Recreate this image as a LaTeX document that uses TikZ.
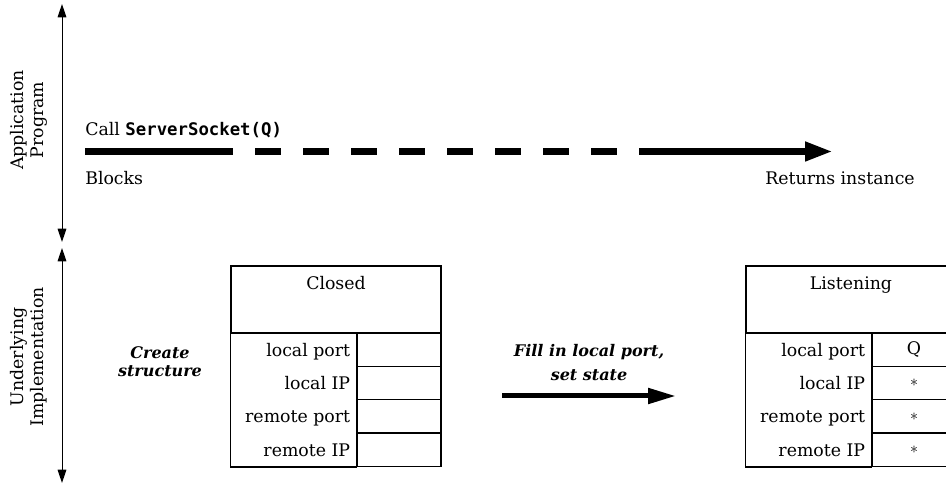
\documentclass[tikz,border=0pt]{standalone}
\usepackage{fontspec}
\setmainfont{DejaVu Serif}
\setmonofont{DejaVu Sans Mono}
\usetikzlibrary{arrows.meta, positioning}

\tikzset{
  lbl/.style={font=\fontsize{13}{15}\selectfont, inner sep=0pt},
  note/.style={font=\fontsize{12}{13.5}\selectfont\bfseries\itshape, inner sep=0pt, align=center},
  rowlbl/.style={lbl, text height=10pt, text depth=0pt},
  headbox/.style={draw, line width=0.9pt, minimum width=157.5pt, minimum height=50.25pt, inner sep=0pt},
  cell/.style={draw, line width=0.9pt, minimum width=63pt, minimum height=25pt, inner sep=0pt, font=\fontsize{13}{15}\selectfont},
  callline/.style={line width=5.25pt},
  span/.style={line width=0.75pt, {Triangle[length=10pt,width=6.5pt]}-{Triangle[length=10pt,width=6.5pt]}},
}

\begin{document}
\begin{tikzpicture}[x=0.75pt, y=-0.75pt]
    \useasboundingbox (0,0) rectangle (946,484);
    \clip (0,0) rectangle (946,484);

    % levels on the left
    \coordinate (apptop) at (62,4);
    \coordinate (appbot) at (62,242);
    \coordinate (imptop) at (62,248);
    \coordinate (impbot) at (62,483);
    \draw[span] (apptop) -- (appbot);
    \draw[span] (imptop) -- (impbot);
    \node[lbl, rotate=90, align=center] (app) at (29,120) {Application\\Program};
    \node[lbl, rotate=90, align=center] (imp) at (29,357) {Underlying\\Implementation};

    % the call
    \coordinate (callstart) at (85,151.5);
    \coordinate (blockend) at (207,151.5);
    \coordinate (waitend) at (665,151.5);
    \coordinate (retend) at (833,151.5);
    \draw[callline] (callstart) -- (blockend);
    \draw[callline, dash pattern=on 19.5pt off 16.5pt] (blockend) -- (waitend);
    \draw[callline, -{Triangle[length=21pt,width=13.5pt]}] (waitend) -- (retend);
    \node[lbl, anchor=base west] (call) at (85,136) {Call \texttt{\bfseries ServerSocket(Q)}};
    \node[lbl, anchor=base west] (blocks) at (85,185) {Blocks};
    \node[lbl, anchor=base east] (returns) at (915,185) {Returns instance};

    % closed socket
    \node[note] (create) at (160,362) {Create\\structure};
    \node[headbox] (closed) at (336,299.5) {};
    \node[lbl, below=8pt of closed.north] {Closed};
    \foreach \i/\lab in {1/local port, 2/local IP, 3/remote port, 4/remote IP} {
      \node[cell] (closedv\i) at (399,{333+33.33*(\i-0.5)}) {};
      \node[rowlbl, left=4.5pt of closedv\i] {\lab};
    }
    \draw[line width=0.9pt] (closed.south west) rectangle (closedv4.south west);

    % fill in
    \coordinate (fillstart) at (502,396);
    \coordinate (fillend) at (676,396);
    \draw[line width=3.75pt, -{Triangle[length=21pt,width=11.25pt]}] (fillstart) -- (fillend);
    \node[note, font=\fontsize{12}{18}\selectfont\bfseries\itshape] (fill) at (589,363) {Fill in local port,\\set state};

    % listening socket
    \node[headbox] (listen) at (851,299.5) {};
    \node[lbl, below=8pt of listen.north] {Listening};
    \foreach \i/\lab/\v in {1/local port/Q, 2/local IP/{$\ast$}, 3/remote port/{$\ast$}, 4/remote IP/{$\ast$}} {
      \node[cell] (listenv\i) at (914,{333+33.33*(\i-0.5)}) {\v};
      \node[rowlbl, left=4.5pt of listenv\i] {\lab};
    }
    \draw[line width=0.9pt] (listen.south west) rectangle (listenv4.south west);
\end{tikzpicture}
\end{document}
